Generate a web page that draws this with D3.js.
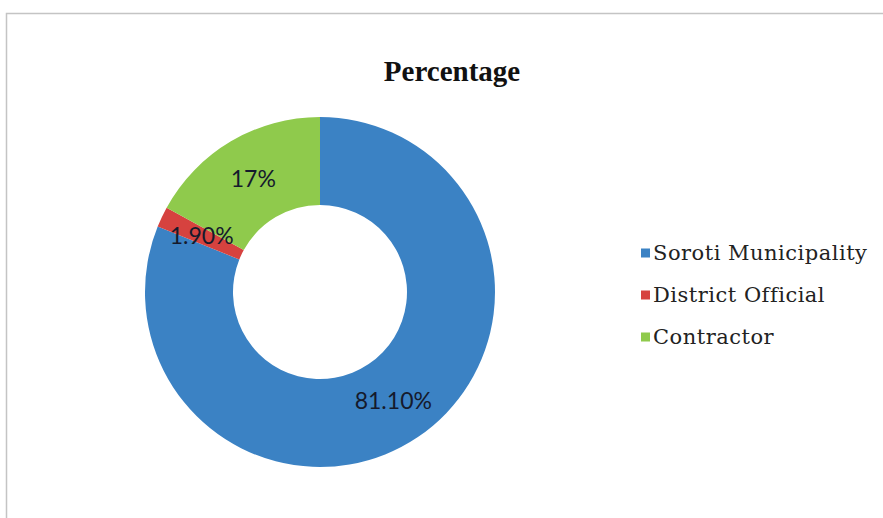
<!DOCTYPE html>
<html>
<head>
<meta charset="utf-8">
<script src="https://cdn.jsdelivr.net/npm/d3@7"></script>
<style>
  body { margin: 0; background: #fff; }
</style>
</head>
<body>
<div id="chart"></div>
<script>
var categories = ["Soroti Municipality", "District Official", "Contractor"];
var values = [81.10, 1.90, 17];
var valueLabels = ["81.10%", "1.90%", "17%"];
var colors = ["#3b82c4", "#d6423f", "#8fca4c"];

var width = 883, height = 518;
var cx = 320, cy = 292,
    outerR = 175, innerR = 87;

var svg = d3.select("#chart")
  .append("svg")
    .attr("width", width)
    .attr("height", height);

// chart frame, runs off the right and bottom
svg.append("rect")
  .attr("x", 6.5)
  .attr("y", 13.5)
  .attr("width", width + 20)
  .attr("height", height + 20)
  .attr("fill", "none")
  .attr("stroke", "#c4c4c4")
  .attr("stroke-width", 1.5);

svg.append("text")
  .attr("x", 452)
  .attr("y", 81)
  .attr("text-anchor", "middle")
  .attr("font-family", "'Liberation Serif', serif")
  .attr("font-weight", "bold")
  .attr("font-size", "29px")
  .attr("fill", "#111")
  .text("Percentage");

var pie = d3.pie().sort(null).value(function(d) { return d; });
var arc = d3.arc().innerRadius(innerR).outerRadius(outerR);

var g = svg.append("g")
  .attr("transform", "translate(" + cx + "," + cy + ")");

var slices = pie(values);

g.selectAll("path")
  .data(slices)
  .enter()
  .append("path")
    .attr("d", arc)
    .attr("fill", function(d, i) { return colors[i]; });

// value labels sit at the middle of each ring segment
g.selectAll("text.val")
  .data(slices)
  .enter()
  .append("text")
    .attr("class", "val")
    .attr("transform", function(d) { return "translate(" + arc.centroid(d) + ")"; })
    .attr("dy", "0.35em")
    .attr("text-anchor", "middle")
    .attr("font-family", "Lato, sans-serif")
    .attr("font-size", "23px")
    .attr("fill", "#151a2c")
    .text(function(d, i) { return valueLabels[i]; });

// legend
var legend = svg.append("g")
  .attr("transform", "translate(641,253)");

var rows = legend.selectAll("g")
  .data(categories)
  .enter()
  .append("g")
    .attr("transform", function(d, i) { return "translate(0," + (i * 42) + ")"; });

rows.append("rect")
  .attr("x", 0)
  .attr("y", -4.5)
  .attr("width", 9)
  .attr("height", 9)
  .attr("fill", function(d, i) { return colors[i]; });

rows.append("text")
  .attr("x", 12)
  .attr("dy", "0.35em")
  .attr("font-family", "'DejaVu Serif', serif")
  .attr("font-size", "21px")
  .attr("letter-spacing", "0.5px")
  .attr("fill", "#222")
  .text(function(d) { return d; });
</script>
</body>
</html>
